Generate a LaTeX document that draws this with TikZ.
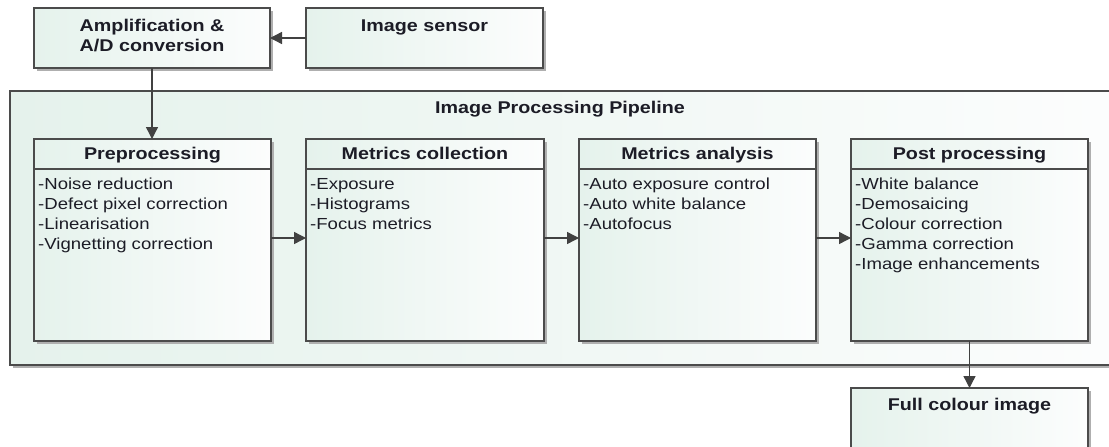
\documentclass[tikz,border=0pt]{standalone}
\usepackage{fontspec}
\setmainfont{Liberation Sans}[FakeStretch=1.16]
\usetikzlibrary{arrows.meta,shadows,calc}
\definecolor{mintA}{RGB}{229,242,236}
\definecolor{mintB}{RGB}{252,253,253}
\definecolor{bordercol}{RGB}{75,75,75}
\definecolor{shadowcol}{RGB}{175,175,175}
\definecolor{txtcol}{RGB}{28,28,38}
\definecolor{arrowcol}{RGB}{65,65,65}
\tikzset{
  boxshape/.style={draw=bordercol, line width=1.3pt, left color=mintA, right color=mintB,
    drop shadow={shadow xshift=3pt, shadow yshift=-3pt, fill=shadowcol, opacity=1},
    inner sep=0pt, outer sep=0pt},
  ttl/.style={font=\fontsize{17}{20}\selectfont\bfseries, text=txtcol, inner sep=0pt, anchor=base},
  items/.style={font=\fontsize{16}{20}\selectfont, text=txtcol, inner sep=0pt, align=left, anchor=north west},
  hdr/.style={draw=bordercol, line width=1.3pt},
  flow/.style={draw=arrowcol, line width=1.4pt, -{Triangle[length=12pt,width=12pt]}}
}
\begin{document}
\begin{tikzpicture}[x=1pt,y=-1pt]
\useasboundingbox[fill=white] (0,0) rectangle (1109,447);

% top boxes
\node[boxshape, minimum width=236pt, minimum height=60pt] (amp) at (152,38) {};
\node[boxshape, minimum width=237pt, minimum height=60pt] (sen) at (424.5,38) {};
\node[ttl] (amptitle) at (152,31.5) {Amplification \&};
\node[ttl] (amptitle2) at (152,51) {A/D conversion};
\node[ttl] (sentitle) at (424.5,31.5) {Image sensor};

% pipeline container
\node[boxshape, minimum width=1104pt, minimum height=274pt] (pipe) at (562,228) {};
\node[ttl] (pipetitle) at (560,113) {Image Processing Pipeline};

% stage boxes
\node[boxshape, minimum width=237pt, minimum height=202pt] (pre) at (152.5,240) {};
\node[boxshape, minimum width=238pt, minimum height=202pt] (col) at (425,240) {};
\node[boxshape, minimum width=237pt, minimum height=202pt] (ana) at (697.5,240) {};
\node[boxshape, minimum width=237pt, minimum height=202pt] (post) at (969.5,240) {};

\foreach \b in {pre,col,ana,post}{
  \draw[hdr] ($(\b.north west)+(0,30)$) -- ($(\b.north east)+(0,30)$);
}

\node[ttl] (pretitle) at (152.5,159.5) {Preprocessing};
\node[ttl] (coltitle) at (425,159.5) {Metrics collection};
\node[ttl] (anatitle) at (697.5,159.5) {Metrics analysis};
\node[ttl] (posttitle) at (969.5,159.5) {Post processing};

\node[items] (preitems) at ($(pre.north west)+(4,36.5)$) {\strut-Noise reduction\\-Defect pixel correction\\-Linearisation\\-Vignetting correction};
\node[items] (colitems) at ($(col.north west)+(4,36.5)$) {\strut-Exposure\\-Histograms\\-Focus metrics};
\node[items] (anaitems) at ($(ana.north west)+(4,36.5)$) {\strut-Auto exposure control\\-Auto white balance\\-Autofocus};
\node[items] (postitems) at ($(post.north west)+(4,36.5)$) {\strut-White balance\\-Demosaicing\\-Colour correction\\-Gamma correction\\-Image enhancements};

% output box
\node[boxshape, minimum width=237pt, minimum height=80pt] (full) at (969.5,428) {};
\node[ttl] (fulltitle) at (969.5,410) {Full colour image};

% connectors
\draw[flow] (sen.west) -- (amp.east);
\draw[flow] (amp.south) -- (amp.south |- pre.north);
\draw[flow] ($(pre.east)+(0,-2)$) -- ($(col.west)+(0,-2)$);
\draw[flow] ($(col.east)+(0,-2)$) -- ($(ana.west)+(0,-2)$);
\draw[flow] ($(ana.east)+(0,-2)$) -- ($(post.west)+(0,-2)$);
\draw[flow] (post.south) -- (post.south |- full.north);
\end{tikzpicture}
\end{document}
